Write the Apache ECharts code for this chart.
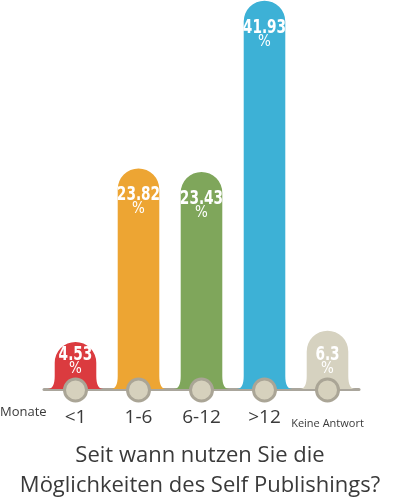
<!DOCTYPE html>
<html>
<head>
<meta charset="utf-8">
<script src="https://cdn.jsdelivr.net/npm/echarts@6/dist/echarts.min.js"></script>
<style>html,body{margin:0;padding:0;background:#fff;}#c{width:400px;height:499px;}</style>
</head>
<body>
<div id="c"></div>
<script>
const categories = ['<1', '1-6', '6-12', '>12', 'Keine Antwort'];
const values = [4.53, 23.82, 23.43, 41.93, 6.3];
const valueLabels = ['4.53', '23.82', '23.43', '41.93', '6.3'];
const barColors = ['#db3b3f', '#eda533', '#7fa65b', '#3db1d6', '#d6d2c0'];
const titleLines = ['Seit wann nutzen Sie die', 'Möglichkeiten des Self Publishings?'];
const unitLabel = 'Monate';

const chart = echarts.init(document.getElementById('c'), null, {renderer: 'canvas'});
const labelFont = "'DejaVu Sans', sans-serif";

function renderItem(params, api) {
  const idx = api.value(0);
  const v = api.value(1);
  const base = api.coord([idx, 0]);
  const topPt = api.coord([idx, v]);
  const bw = api.size([1, 0])[0] * 0.66;
  const cx = base[0];
  const yb = base[1];
  const yt = Math.min(topPt[1], yb - 47);
  const r = bw / 2;
  const xl = cx - r, xr = cx + r;
  const f = 7, h = 13;
  const pathData = 'M' + (xl - f) + ',' + yb +
    ' Q' + xl + ',' + yb + ' ' + xl + ',' + (yb - h) +
    ' L' + xl + ',' + (yt + r) +
    ' A' + r + ',' + r + ' 0 0 1 ' + xr + ',' + (yt + r) +
    ' L' + xr + ',' + (yb - h) +
    ' Q' + xr + ',' + yb + ' ' + (xr + f) + ',' + yb + ' Z';
  const vy = Math.min(yt + 27, yb - 34);
  return {
    type: 'group',
    children: [
      {type: 'path', shape: {pathData: pathData}, style: {fill: barColors[idx]}},
      {type: 'text', x: cx, y: vy, scaleX: 0.72,
        style: {text: valueLabels[idx], x: 0, y: 0, align: 'center', verticalAlign: 'middle',
        fill: '#fff', fontSize: 19, fontWeight: 'bold', fontFamily: labelFont}},
      {type: 'text', x: cx, y: vy + 14, scaleX: 0.9,
        style: {text: '%', x: 0, y: 0, align: 'center', verticalAlign: 'middle',
        fill: '#fff', fontSize: 15, fontWeight: 'normal', fontFamily: labelFont}},
      {type: 'circle', shape: {cx: cx, cy: yb + 1, r: 11},
        style: {fill: '#d6d1bd', stroke: '#aaa596', lineWidth: 3}}
    ]
  };
}

chart.setOption({
  animation: false,
  backgroundColor: '#fff',
  title: {
    text: titleLines.join('\n'),
    left: 'center',
    top: 436,
    textStyle: {fontSize: 22, fontWeight: 'normal', color: '#3a3a3a', lineHeight: 30, fontFamily: "'Open Sans', sans-serif"}
  },
  graphic: [{
    type: 'text', left: 0, top: 406,
    style: {text: unitLabel, fontSize: 13, fill: '#3a3a3a', fontFamily: "'Open Sans', sans-serif"}
  }],
  grid: {left: 44, right: 41, top: 0, bottom: 110},
  xAxis: {
    type: 'category',
    data: categories.map(function (c, i) {
      return i === categories.length - 1 ? {value: c, textStyle: {fontSize: 11}} : c;
    }),
    axisLine: {show: true, lineStyle: {color: '#aaa69c', width: 3}},
    axisTick: {show: false},
    axisLabel: {color: '#3a3a3a', fontSize: 19, margin: 29, verticalAlign: 'middle', interval: 0,
      fontFamily: "'Open Sans', sans-serif"}
  },
  yAxis: {type: 'value', min: 0, max: 42, show: false, splitLine: {show: false}},
  series: [{
    type: 'custom',
    renderItem: renderItem,
    data: values.map(function (v, i) { return [i, v]; }),
    encode: {x: 0, y: 1},
    z: 5
  }]
});
</script>
</body>
</html>
